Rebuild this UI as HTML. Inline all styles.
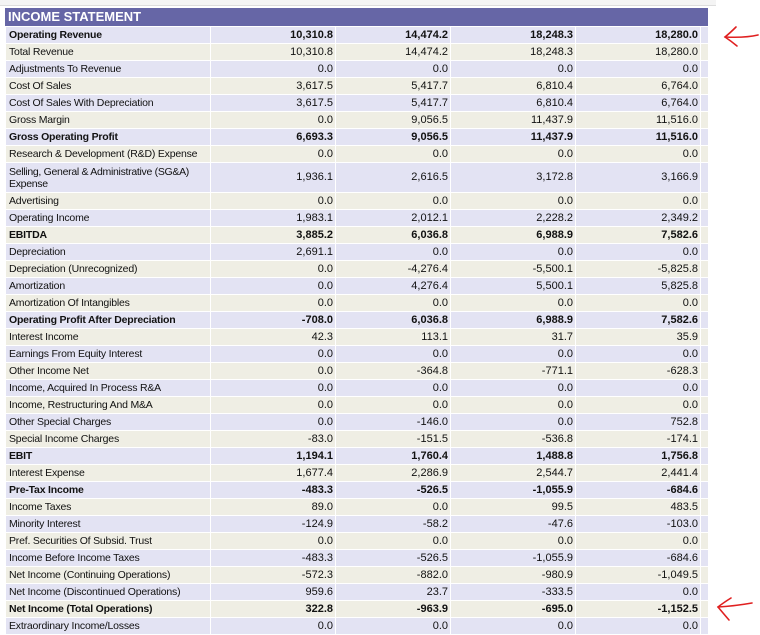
<!DOCTYPE html>
<html><head><meta charset="utf-8"><style>
body{margin:0;width:760px;height:626px;background:#fff;position:relative;overflow:hidden;font-family:"Liberation Sans",Arial,sans-serif;}
.top{position:absolute;left:0;top:0;width:716px;height:5px;background:#f4f4f4;border-bottom:1px solid #ddd;}
.hdr{position:absolute;left:5px;top:8px;width:703px;height:18px;background:#6666a6;color:#fff;font-weight:bold;font-size:13px;line-height:18px;padding-left:3px;box-sizing:border-box;}
table{position:absolute;left:5px;top:26px;border-collapse:collapse;table-layout:fixed;width:703px;font-size:11px;color:#111;}
td{height:16px;padding:0 3px;border:1px solid #fff;white-space:nowrap;overflow:hidden;line-height:15px;}
td.l{font-size:10.5px;letter-spacing:-0.2px;}
td.n{text-align:right;padding-right:2px;}
tr:nth-child(odd) td{background:#e3e3f3;}
tr:nth-child(even) td{background:#efeee4;}
tr.b td{font-weight:bold;}
tr.t td{height:29px;}
tr.t td.l{white-space:normal;line-height:12px;letter-spacing:-0.3px;}
</style></head><body>
<div class="top"></div>
<div class="hdr">INCOME STATEMENT</div>
<table>
<colgroup><col style="width:205px"><col style="width:125px"><col style="width:115px"><col style="width:125px"><col style="width:125px"><col style="width:8px"></colgroup>
<tr class="b"><td class="l">Operating Revenue</td><td class="n">10,310.8</td><td class="n">14,474.2</td><td class="n">18,248.3</td><td class="n">18,280.0</td><td></td></tr>
<tr><td class="l">Total Revenue</td><td class="n">10,310.8</td><td class="n">14,474.2</td><td class="n">18,248.3</td><td class="n">18,280.0</td><td></td></tr>
<tr><td class="l">Adjustments To Revenue</td><td class="n">0.0</td><td class="n">0.0</td><td class="n">0.0</td><td class="n">0.0</td><td></td></tr>
<tr><td class="l">Cost Of Sales</td><td class="n">3,617.5</td><td class="n">5,417.7</td><td class="n">6,810.4</td><td class="n">6,764.0</td><td></td></tr>
<tr><td class="l">Cost Of Sales With Depreciation</td><td class="n">3,617.5</td><td class="n">5,417.7</td><td class="n">6,810.4</td><td class="n">6,764.0</td><td></td></tr>
<tr><td class="l">Gross Margin</td><td class="n">0.0</td><td class="n">9,056.5</td><td class="n">11,437.9</td><td class="n">11,516.0</td><td></td></tr>
<tr class="b"><td class="l">Gross Operating Profit</td><td class="n">6,693.3</td><td class="n">9,056.5</td><td class="n">11,437.9</td><td class="n">11,516.0</td><td></td></tr>
<tr><td class="l">Research &amp; Development (R&amp;D) Expense</td><td class="n">0.0</td><td class="n">0.0</td><td class="n">0.0</td><td class="n">0.0</td><td></td></tr>
<tr class="t"><td class="l">Selling, General &amp; Administrative (SG&amp;A) Expense</td><td class="n">1,936.1</td><td class="n">2,616.5</td><td class="n">3,172.8</td><td class="n">3,166.9</td><td></td></tr>
<tr><td class="l">Advertising</td><td class="n">0.0</td><td class="n">0.0</td><td class="n">0.0</td><td class="n">0.0</td><td></td></tr>
<tr><td class="l">Operating Income</td><td class="n">1,983.1</td><td class="n">2,012.1</td><td class="n">2,228.2</td><td class="n">2,349.2</td><td></td></tr>
<tr class="b"><td class="l">EBITDA</td><td class="n">3,885.2</td><td class="n">6,036.8</td><td class="n">6,988.9</td><td class="n">7,582.6</td><td></td></tr>
<tr><td class="l">Depreciation</td><td class="n">2,691.1</td><td class="n">0.0</td><td class="n">0.0</td><td class="n">0.0</td><td></td></tr>
<tr><td class="l">Depreciation (Unrecognized)</td><td class="n">0.0</td><td class="n">-4,276.4</td><td class="n">-5,500.1</td><td class="n">-5,825.8</td><td></td></tr>
<tr><td class="l">Amortization</td><td class="n">0.0</td><td class="n">4,276.4</td><td class="n">5,500.1</td><td class="n">5,825.8</td><td></td></tr>
<tr><td class="l">Amortization Of Intangibles</td><td class="n">0.0</td><td class="n">0.0</td><td class="n">0.0</td><td class="n">0.0</td><td></td></tr>
<tr class="b"><td class="l">Operating Profit After Depreciation</td><td class="n">-708.0</td><td class="n">6,036.8</td><td class="n">6,988.9</td><td class="n">7,582.6</td><td></td></tr>
<tr><td class="l">Interest Income</td><td class="n">42.3</td><td class="n">113.1</td><td class="n">31.7</td><td class="n">35.9</td><td></td></tr>
<tr><td class="l">Earnings From Equity Interest</td><td class="n">0.0</td><td class="n">0.0</td><td class="n">0.0</td><td class="n">0.0</td><td></td></tr>
<tr><td class="l">Other Income Net</td><td class="n">0.0</td><td class="n">-364.8</td><td class="n">-771.1</td><td class="n">-628.3</td><td></td></tr>
<tr><td class="l">Income, Acquired In Process R&amp;A</td><td class="n">0.0</td><td class="n">0.0</td><td class="n">0.0</td><td class="n">0.0</td><td></td></tr>
<tr><td class="l">Income, Restructuring And M&amp;A</td><td class="n">0.0</td><td class="n">0.0</td><td class="n">0.0</td><td class="n">0.0</td><td></td></tr>
<tr><td class="l">Other Special Charges</td><td class="n">0.0</td><td class="n">-146.0</td><td class="n">0.0</td><td class="n">752.8</td><td></td></tr>
<tr><td class="l">Special Income Charges</td><td class="n">-83.0</td><td class="n">-151.5</td><td class="n">-536.8</td><td class="n">-174.1</td><td></td></tr>
<tr class="b"><td class="l">EBIT</td><td class="n">1,194.1</td><td class="n">1,760.4</td><td class="n">1,488.8</td><td class="n">1,756.8</td><td></td></tr>
<tr><td class="l">Interest Expense</td><td class="n">1,677.4</td><td class="n">2,286.9</td><td class="n">2,544.7</td><td class="n">2,441.4</td><td></td></tr>
<tr class="b"><td class="l">Pre-Tax Income</td><td class="n">-483.3</td><td class="n">-526.5</td><td class="n">-1,055.9</td><td class="n">-684.6</td><td></td></tr>
<tr><td class="l">Income Taxes</td><td class="n">89.0</td><td class="n">0.0</td><td class="n">99.5</td><td class="n">483.5</td><td></td></tr>
<tr><td class="l">Minority Interest</td><td class="n">-124.9</td><td class="n">-58.2</td><td class="n">-47.6</td><td class="n">-103.0</td><td></td></tr>
<tr><td class="l">Pref. Securities Of Subsid. Trust</td><td class="n">0.0</td><td class="n">0.0</td><td class="n">0.0</td><td class="n">0.0</td><td></td></tr>
<tr><td class="l">Income Before Income Taxes</td><td class="n">-483.3</td><td class="n">-526.5</td><td class="n">-1,055.9</td><td class="n">-684.6</td><td></td></tr>
<tr><td class="l">Net Income (Continuing Operations)</td><td class="n">-572.3</td><td class="n">-882.0</td><td class="n">-980.9</td><td class="n">-1,049.5</td><td></td></tr>
<tr><td class="l">Net Income (Discontinued Operations)</td><td class="n">959.6</td><td class="n">23.7</td><td class="n">-333.5</td><td class="n">0.0</td><td></td></tr>
<tr class="b"><td class="l">Net Income (Total Operations)</td><td class="n">322.8</td><td class="n">-963.9</td><td class="n">-695.0</td><td class="n">-1,152.5</td><td></td></tr>
<tr><td class="l">Extraordinary Income/Losses</td><td class="n">0.0</td><td class="n">0.0</td><td class="n">0.0</td><td class="n">0.0</td><td></td></tr>
</table>
<svg style="position:absolute;left:0;top:0" width="760" height="626">
<g stroke="#e02020" stroke-width="1.6" fill="none" stroke-linecap="round">
<path d="M725 37 Q745 38 758 35"/><path d="M736 27 Q730 33 725 37 Q731 41 737 46"/>
<path d="M718 607 Q735 606 752 603"/><path d="M731 598 Q723 603 718 607 Q723 613 729 620"/>
</g></svg>
</body></html>
